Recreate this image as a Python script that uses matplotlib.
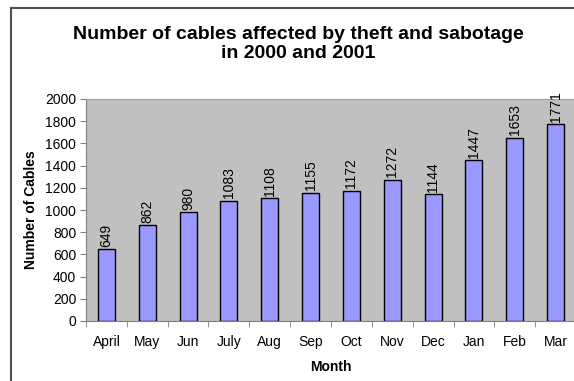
import numpy as np
import matplotlib.pyplot as plt
from matplotlib.lines import Line2D

plt.rcParams['font.family'] = ['Liberation Sans', 'DejaVu Sans']

months = ['April', 'May', 'Jun', 'July', 'Aug', 'Sep', 'Oct', 'Nov', 'Dec', 'Jan', 'Feb', 'Mar']
cables = [649, 862, 980, 1083, 1108, 1155, 1172, 1272, 1144, 1447, 1653, 1771]
yticks = [0, 200, 400, 600, 800, 1000, 1200, 1400, 1600, 1800, 2000]

W, H = 574, 381
fig = plt.figure(figsize=(W / 100, H / 100), dpi=100)

# plot area in pixel coords, runs slightly past the right edge
left, right, top, bottom = 86, 576, 99, 321
ax = fig.add_axes([left / W, 1 - bottom / H, (right - left) / W, (bottom - top) / H])
ax.set_facecolor('#c0c0c0')

x = np.arange(len(months))
ax.bar(x, cables, width=0.42, color='#9999ff', edgecolor='black', linewidth=1.0, zorder=2)
for xi, v in zip(x, cables):
    ax.text(xi, v + 22, str(v), rotation=90, ha='center', va='bottom', fontsize=10)

ax.set_xlim(-0.5, len(months) - 0.5)
ax.set_ylim(0, 2000)
ax.set_yticks(yticks)
ax.set_xticks(x)
ax.set_xticklabels(months, fontsize=10)
ax.set_xticks(np.arange(len(months) + 1) - 0.5, minor=True)
ax.tick_params(axis='x', which='major', length=0, pad=10)
ax.tick_params(axis='x', which='minor', length=4, color='#808080')
ax.tick_params(axis='y', labelsize=10, length=4, color='#808080', pad=3)

for side in ['top', 'right']:
    ax.spines[side].set_color('#a0a0a0')
    ax.spines[side].set_linewidth(0.8)
for side in ['left', 'bottom']:
    ax.spines[side].set_color('#808080')
    ax.spines[side].set_linewidth(0.8)

ax.set_xlabel('Month', fontsize=10, fontweight='bold', labelpad=8)
ax.set_ylabel('Number of Cables', fontsize=10, fontweight='bold', labelpad=5)

fig.text(298.5 / W, 1 - 44 / H, 'Number of cables affected by theft and sabotage\nin 2000 and 2001',
         ha='center', va='center', fontsize=14, fontweight='bold', linespacing=1.2)

# outer chart frame (left and top edges)
fig.add_artist(Line2D([10.5 / W, 10.5 / W], [0, 1 - 7.5 / H], color='#505050', lw=1.5,
                      transform=fig.transFigure))
fig.add_artist(Line2D([10.5 / W, 1], [1 - 7.5 / H, 1 - 7.5 / H], color='#505050', lw=1.5,
                      transform=fig.transFigure))

fig.savefig('out.png', dpi=100)
